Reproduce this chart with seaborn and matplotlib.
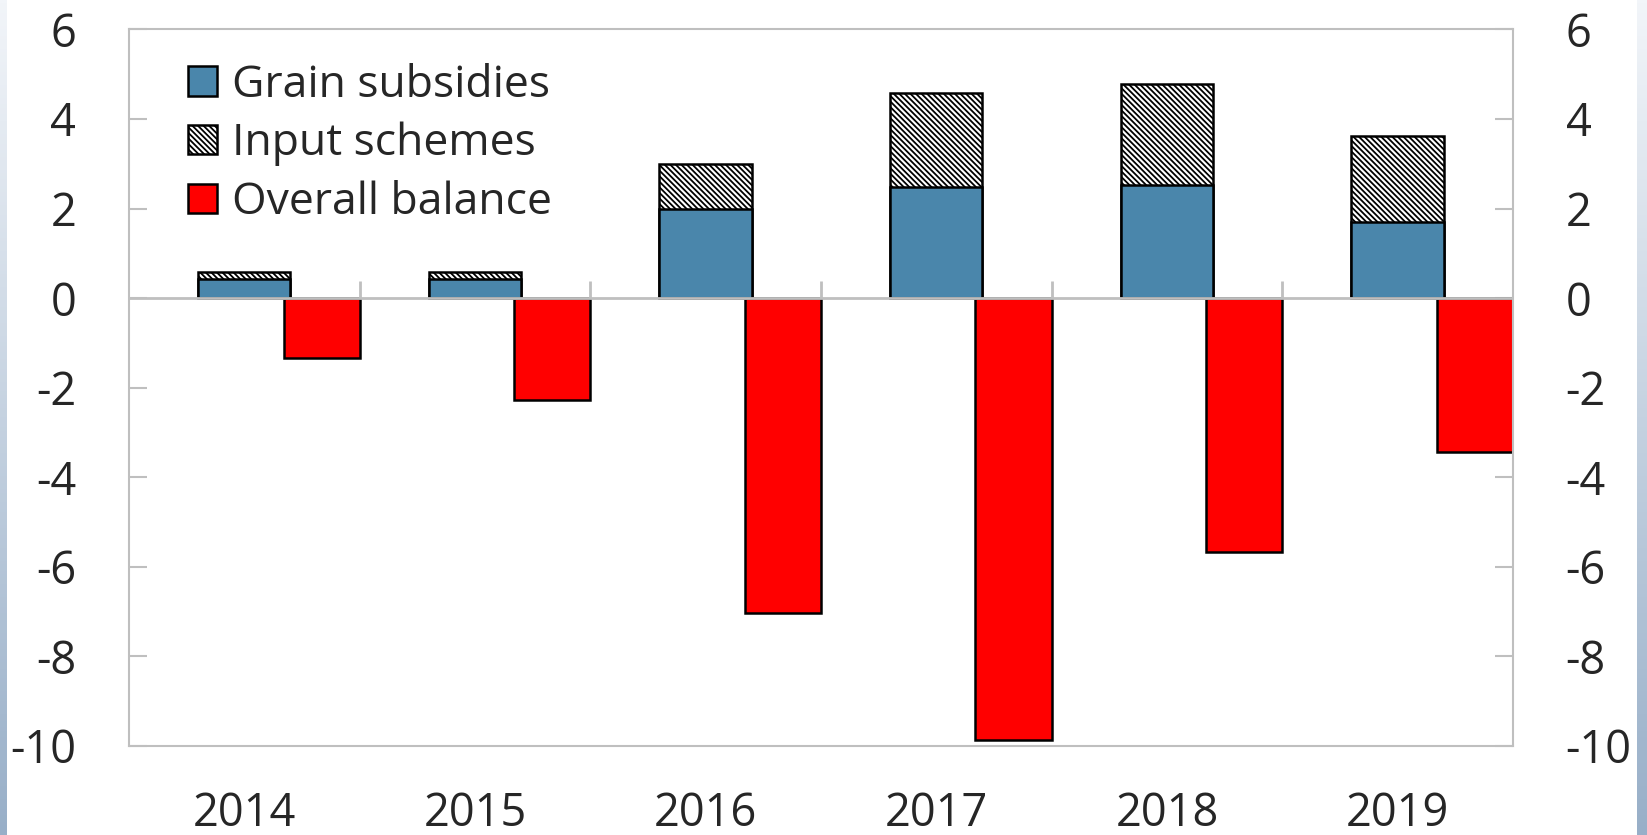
import numpy as np
import pandas as pd
import matplotlib
matplotlib.use("Agg")
import matplotlib.pyplot as plt
import seaborn as sns
from matplotlib.patches import Patch

# datos
anios = ["2014", "2015", "2016", "2017", "2018", "2019"]
grain_subsidies = [0.42, 0.42, 1.99, 2.47, 2.52, 1.70]
input_schemes = [0.16, 0.16, 1.01, 2.11, 2.25, 1.92]
overall_balance = [-1.34, -2.28, -7.04, -9.86, -5.66, -3.43]
yticks = [6, 4, 2, 0, -2, -4, -6, -8, -10]

sns.set_theme(style="white")
plt.rcParams["font.family"] = ["Open Sans", "DejaVu Sans"]
plt.rcParams["hatch.linewidth"] = 1.3

fs = 32.5
gris = "#BFBFBF"
azul = "#4A86AB"
rayas = "\\\\\\\\\\\\"

pos = np.arange(len(anios))
df = pd.DataFrame({
    "pos": pos,
    "grain": grain_subsidies,
    "total": np.array(grain_subsidies) + np.array(input_schemes),
    "overall": overall_balance,
})
df["pos_red"] = df["pos"] + 0.335

fig = plt.figure(figsize=(16.47, 8.35), dpi=100)
ax = fig.add_axes([0.0783, 0.1066, 0.8403, 0.8582])

# barras apiladas: total (rayado) y encima la parte de grano
sns.barplot(data=df, x="pos", y="total", native_scale=True, width=0.40,
            color="white", edgecolor="black", linewidth=1.8, hatch=rayas,
            saturation=1, ax=ax, zorder=2)
sns.barplot(data=df, x="pos", y="grain", native_scale=True, width=0.40,
            color=azul, edgecolor="black", linewidth=1.8,
            saturation=1, ax=ax, zorder=3)
sns.barplot(data=df, x="pos_red", y="overall", native_scale=True, width=0.33,
            color="#FF0000", edgecolor="black", linewidth=1.8,
            saturation=1, ax=ax, zorder=2)

ax.set_xlim(-0.5, len(anios) - 0.5)
ax.set_ylim(-10, 6)
ax.set_xlabel("")
ax.set_ylabel("")

# eje x: etiquetas abajo, marcas en la linea del cero
ax.set_xticks(pos)
ax.set_xticklabels(anios, fontsize=fs)
ax.tick_params(axis="x", length=0, pad=32.5)
ax.axhline(0, color=gris, lw=2, zorder=4)
ax.vlines(pos[:-1] + 0.5, 0, 0.38, color=gris, lw=2, zorder=4)

# eje y a ambos lados
ax.set_yticks(yticks)
ax.set_yticklabels([str(v) for v in yticks], fontsize=fs)
ax.tick_params(axis="y", direction="in", length=13, width=1.5, color=gris,
               left=True, right=True, labelleft=True, labelright=True, pad=38)
for t in ax.yaxis.get_major_ticks():
    t.label1.set_horizontalalignment("right")
    t.label2.set_horizontalalignment("left")

for s in ax.spines.values():
    s.set_visible(True)
    s.set_color(gris)
    s.set_linewidth(1.5)
    s.set_zorder(5)

handles = [
    Patch(facecolor=azul, edgecolor="black", linewidth=1.8, label="Grain subsidies"),
    Patch(facecolor="white", edgecolor="black", linewidth=1.8, hatch=rayas, label="Input schemes"),
    Patch(facecolor="#FF0000", edgecolor="black", linewidth=1.8, label="Overall balance"),
]
ax.legend(handles=handles, loc="upper left", bbox_to_anchor=(0.043, 0.953),
          frameon=False, fontsize=32, handlelength=0.64, handleheight=0.64,
          handletextpad=0.35, labelspacing=0.32, borderaxespad=0, borderpad=0)

# franjas de fondo degradadas en los bordes
grad = np.linspace(0, 1, 256).reshape(-1, 1)
cmap = matplotlib.colors.LinearSegmentedColormap.from_list("borde", ["#F2F5F9", "#98AFC8"])
for rect in ([0, 0, 7 / 1647, 1], [1637 / 1647, 0, 10 / 1647, 1]):
    bx = fig.add_axes(rect, zorder=-1)
    bx.imshow(grad, aspect="auto", cmap=cmap, origin="upper")
    bx.axis("off")

fig.savefig("out.png", dpi=100, facecolor="white")
